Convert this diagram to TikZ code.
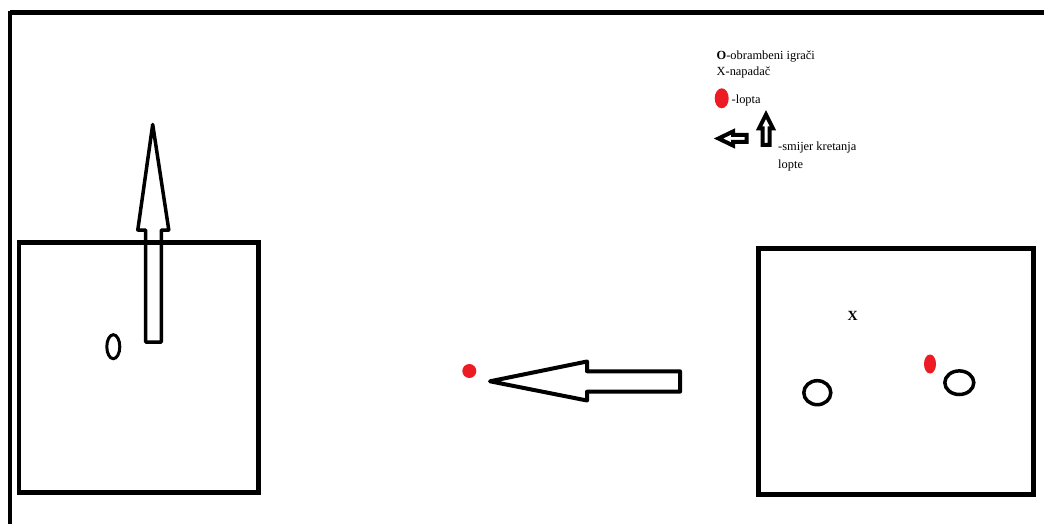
\documentclass[tikz,border=0pt]{standalone}
\usepackage{fontspec}
\setmainfont{Liberation Serif}
\definecolor{pred}{RGB}{237,28,36}
\begin{document}
\begin{tikzpicture}[x=1pt,y=-1pt,
  frameline/.style={line width=4.5pt},
  bigarrow/.style={line width=4pt,line join=round},
  player/.style={line width=3.5pt},
  ball/.style={fill=pred,draw=none},
  legtext/.style={font=\fontsize{12.4}{14}\selectfont,inner sep=0pt,anchor=base west}]
\useasboundingbox (0,0) rectangle (1044,524);
% outer frame lines
\draw[line width=5pt] (10,13) -- (1044,13);
\draw[line width=4pt] (10,11) -- (10,524);
% left box content
\draw[line width=3.5pt,line join=round] (152.7,124.5) -- (168.8,230) -- (161.3,230) -- (161.3,342) -- (145.6,342) -- (145.6,230) -- (137.8,230) -- cycle;
\draw[frameline] (19,242.5) rectangle (258.5,492.5);
\draw[line width=3pt] (113.3,346.7) ellipse [x radius=6.5pt, y radius=12pt];
% middle ball and arrow
\fill[ball] (469.3,371) circle [radius=7pt];
\draw[bigarrow] (490,381.3) -- (587,361.5) -- (587,371.3) -- (680,371.3) -- (680,391.7) -- (587,391.7) -- (587,400.5) -- cycle;
% right box
\draw[line width=5pt] (758.5,248.5) rectangle (1033.5,494.5);
\node[font=\bfseries\fontsize{14}{16}\selectfont,inner sep=0pt] (xp) at (852.7,316) {X};
\fill[ball] (930,364) ellipse [x radius=6pt, y radius=9.5pt];
\draw[player] (817.3,392.7) ellipse [x radius=13.5pt, y radius=12pt];
\draw[player] (959.3,382.7) ellipse [x radius=14.5pt, y radius=11.8pt];
% legend
\node[legtext] (l1) at (716.5,60) {{\bfseries O}-obrambeni igrači};
\node[legtext] (l2) at (716.5,75.5) {X-napadač};
\fill[ball] (721.7,98.3) ellipse [x radius=7pt, y radius=10pt];
\node[legtext] (l3) at (731.5,103.5) {-lopta};
\draw[line width=4pt,line join=miter] (718.5,138.5) -- (733,131.5) -- (733,135) -- (746.5,135) -- (746.5,142) -- (733,142) -- (733,145.5) -- cycle;
\draw[line width=4pt,line join=miter] (766,114.5) -- (773,128.5) -- (769.5,128.5) -- (769.5,145) -- (762.5,145) -- (762.5,128.5) -- (759,128.5) -- cycle;
\node[legtext] (l4) at (778,150) {-smijer kretanja};
\node[legtext] (l5) at (778,168) {lopte};
\end{tikzpicture}
\end{document}
